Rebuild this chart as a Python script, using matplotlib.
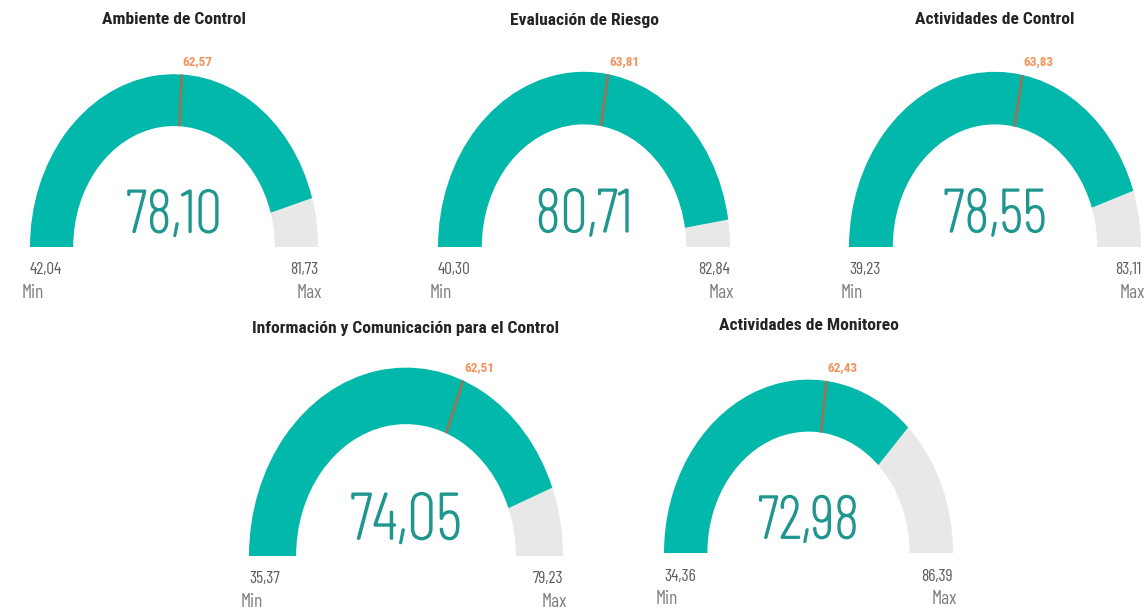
import numpy as np
import matplotlib
matplotlib.use('Agg')
import matplotlib.pyplot as plt
import matplotlib.patheffects as pe
from matplotlib.patches import Wedge

# gauge data
titles = ['Ambiente de Control', 'Evaluación de Riesgo', 'Actividades de Control',
          'Información y Comunicación para el Control', 'Actividades de Monitoreo']
values = [78.10, 80.71, 78.55, 74.05, 72.98]
mins = [42.04, 40.30, 39.23, 35.37, 34.36]
maxs = [81.73, 82.84, 83.11, 79.23, 86.39]
targets = [62.57, 63.81, 63.83, 62.51, 62.43]

# layout (pixel positions of each gauge: center x, baseline y, outer radius)
cx_px = [174, 584, 995, 406, 808.5]
base_px = [247, 247, 247, 556, 553]
radius_px = [144, 146, 146, 157, 144.5]

W, H = 1146, 613
SY = 1.2  # the picture is stretched vertically

TEAL = '#01B8AA'
GREY = '#E8E8E8'
NUM_COL = '#1F968E'
TGT_COL = '#F5925A'
TGT_LINE = '#A5704F'

num_font = ['Barlow Condensed', 'Roboto Condensed', 'DejaVu Sans']
lab_font = ['Roboto Condensed', 'DejaVu Sans']


def fmt(v):
    return f'{v:.2f}'.replace('.', ',')


def Y(y_img):
    return (H - y_img) / SY


def angle(v, lo, hi):
    return 180.0 - 180.0 * (v - lo) / (hi - lo)


fig = plt.figure(figsize=(W / 100, H / 100), dpi=100)
ax = fig.add_axes([0, 0, 1, 1])
ax.set_xlim(0, W)
ax.set_ylim(0, H / SY)
ax.axis('off')

for i in range(len(titles)):
    cx, cy, R = cx_px[i], Y(base_px[i]), radius_px[i]
    r = R * 0.70
    a_val = angle(values[i], mins[i], maxs[i])
    a_tgt = angle(targets[i], mins[i], maxs[i])

    ax.add_patch(Wedge((cx, cy), R, 0, a_val, width=R - r, facecolor=GREY, edgecolor='none'))
    ax.add_patch(Wedge((cx, cy), R, a_val, 180, width=R - r, facecolor=TEAL, edgecolor='none'))

    t = np.radians(a_tgt)
    ax.plot([cx + r * np.cos(t), cx + R * np.cos(t)], [cy + r * np.sin(t), cy + R * np.sin(t)],
            color=TGT_LINE, lw=1.8, solid_capstyle='butt')
    ax.text(cx + R * np.cos(t) + 1, cy + R * np.sin(t) + 13 / SY, fmt(targets[i]),
            ha='left', va='center', color=TGT_COL, fontsize=9.5, fontweight='bold', family=lab_font)

    # title
    ax.text(cx, Y(base_px[i] - 227), titles[i], ha='center', va='center',
            fontsize=12.6, fontweight='bold', color='#252423', family=lab_font)

    # callout value
    ax.text(cx, Y(base_px[i] - 0.21 * R), fmt(values[i]), ha='center', va='center',
            fontsize=R * 0.30, fontweight='light', color=NUM_COL, family=num_font,
            path_effects=[pe.withStroke(linewidth=1.1, foreground=NUM_COL)])

    # min / max
    ax.text(cx - R, Y(base_px[i] + 23), fmt(mins[i]), ha='left', va='center',
            fontsize=12.5, color='#605E5C', family=num_font)
    ax.text(cx + R, Y(base_px[i] + 23), fmt(maxs[i]), ha='right', va='center',
            fontsize=12.5, color='#605E5C', family=num_font)
    ax.text(cx - R - 8, Y(base_px[i] + 46), 'Min', ha='left', va='center',
            fontsize=14, color='#808080', family=num_font)
    ax.text(cx + R + 4, Y(base_px[i] + 46), 'Max', ha='right', va='center',
            fontsize=14, color='#808080', family=num_font)

fig.savefig('out.png', dpi=100)
